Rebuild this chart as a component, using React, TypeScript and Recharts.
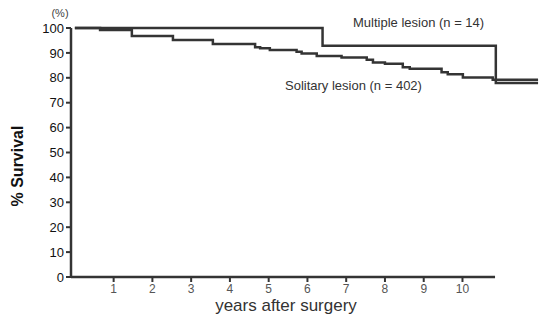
import React from "react";
import { LineChart, Line, XAxis, YAxis, ReferenceLine } from "recharts";

const solitaryYears = [0, 0.65, 1.47, 2.53, 3.56, 4.65, 4.78, 5.03, 5.72, 5.85, 6.24, 6.88, 7.53, 7.69, 8.0, 8.46, 8.64, 9.46, 9.62, 10.01, 10.78, 11.95];
const solitarySurvival = [100, 99.2, 96.8, 95.2, 93.6, 92.3, 91.9, 91.2, 90.5, 89.8, 88.8, 88.2, 87.2, 86.1, 85.6, 84.2, 83.6, 82.2, 81.4, 80.1, 79.2, 79.2];

const multipleYears = [0, 6.39, 10.86, 11.95];
const multipleSurvival = [100, 92.9, 77.9, 77.9];

const yTicks = [0, 10, 20, 30, 40, 50, 60, 70, 80, 90, 100];
const xTicks = [1, 2, 3, 4, 5, 6, 7, 8, 9, 10];

const solitaryData = solitaryYears.map((t, i) => ({ t, s: solitarySurvival[i] }));
const multipleData = multipleYears.map((t, i) => ({ t, m: multipleSurvival[i] }));

const FONT = "'Liberation Sans', Arial, Helvetica, sans-serif";
const LINE = "#343434";

export default function App() {
  return (
    <div style={{ position: "absolute", left: 0, top: 0, width: 542, height: 320, background: "#fff", fontFamily: FONT }}>
      <LineChart width={542} height={320} margin={{ top: 28, right: 2, bottom: 0, left: 0 }}>
        <XAxis
          type="number"
          dataKey="t"
          domain={[-0.1, 12]}
          ticks={xTicks}
          allowDataOverflow
          axisLine={false}
          tickLine={{ stroke: LINE, strokeWidth: 2 }}
          tickSize={5}
          height={43}
          tick={{ fill: "#555", fontSize: 12, fontFamily: FONT }}
        />
        <YAxis
          type="number"
          domain={[0, 100]}
          ticks={yTicks}
          width={71}
          axisLine={{ stroke: LINE, strokeWidth: 2.5 }}
          tickLine={{ stroke: LINE, strokeWidth: 2 }}
          tickSize={5}
          tick={{ fill: "#111", fontSize: 13, fontFamily: FONT }}
        />
        <ReferenceLine
          segment={[{ x: -0.1, y: 0 }, { x: 10.84, y: 0 }]}
          stroke={LINE}
          strokeWidth={2.5}
        />
        <Line
          data={multipleData}
          dataKey="m"
          type="stepAfter"
          stroke={LINE}
          strokeWidth={2.5}
          dot={false}
          isAnimationActive={false}
        />
        <Line
          data={solitaryData}
          dataKey="s"
          type="stepAfter"
          stroke={LINE}
          strokeWidth={2.5}
          dot={false}
          isAnimationActive={false}
        />
      </LineChart>
      <div style={{ position: "absolute", left: 18, top: 166, transform: "translate(-50%, -50%) rotate(-90deg)", whiteSpace: "nowrap", fontWeight: "bold", fontSize: 16, color: "#111" }}>
        % Survival
      </div>
      <div style={{ position: "absolute", left: 60, top: 13, transform: "translate(-50%, -50%)", whiteSpace: "nowrap", fontSize: 11, color: "#444" }}>
        (%)
      </div>
      <div style={{ position: "absolute", left: 286, top: 306, transform: "translate(-50%, -50%)", whiteSpace: "nowrap", fontSize: 17, color: "#333" }}>
        years after surgery
      </div>
      <div style={{ position: "absolute", left: 353, top: 22, transform: "translateY(-50%)", whiteSpace: "nowrap", fontSize: 13, color: "#333" }}>
        Multiple lesion (n = 14)
      </div>
      <div style={{ position: "absolute", left: 285, top: 85, transform: "translateY(-50%)", whiteSpace: "nowrap", fontSize: 13, color: "#333" }}>
        Solitary lesion (n = 402)
      </div>
    </div>
  );
}
